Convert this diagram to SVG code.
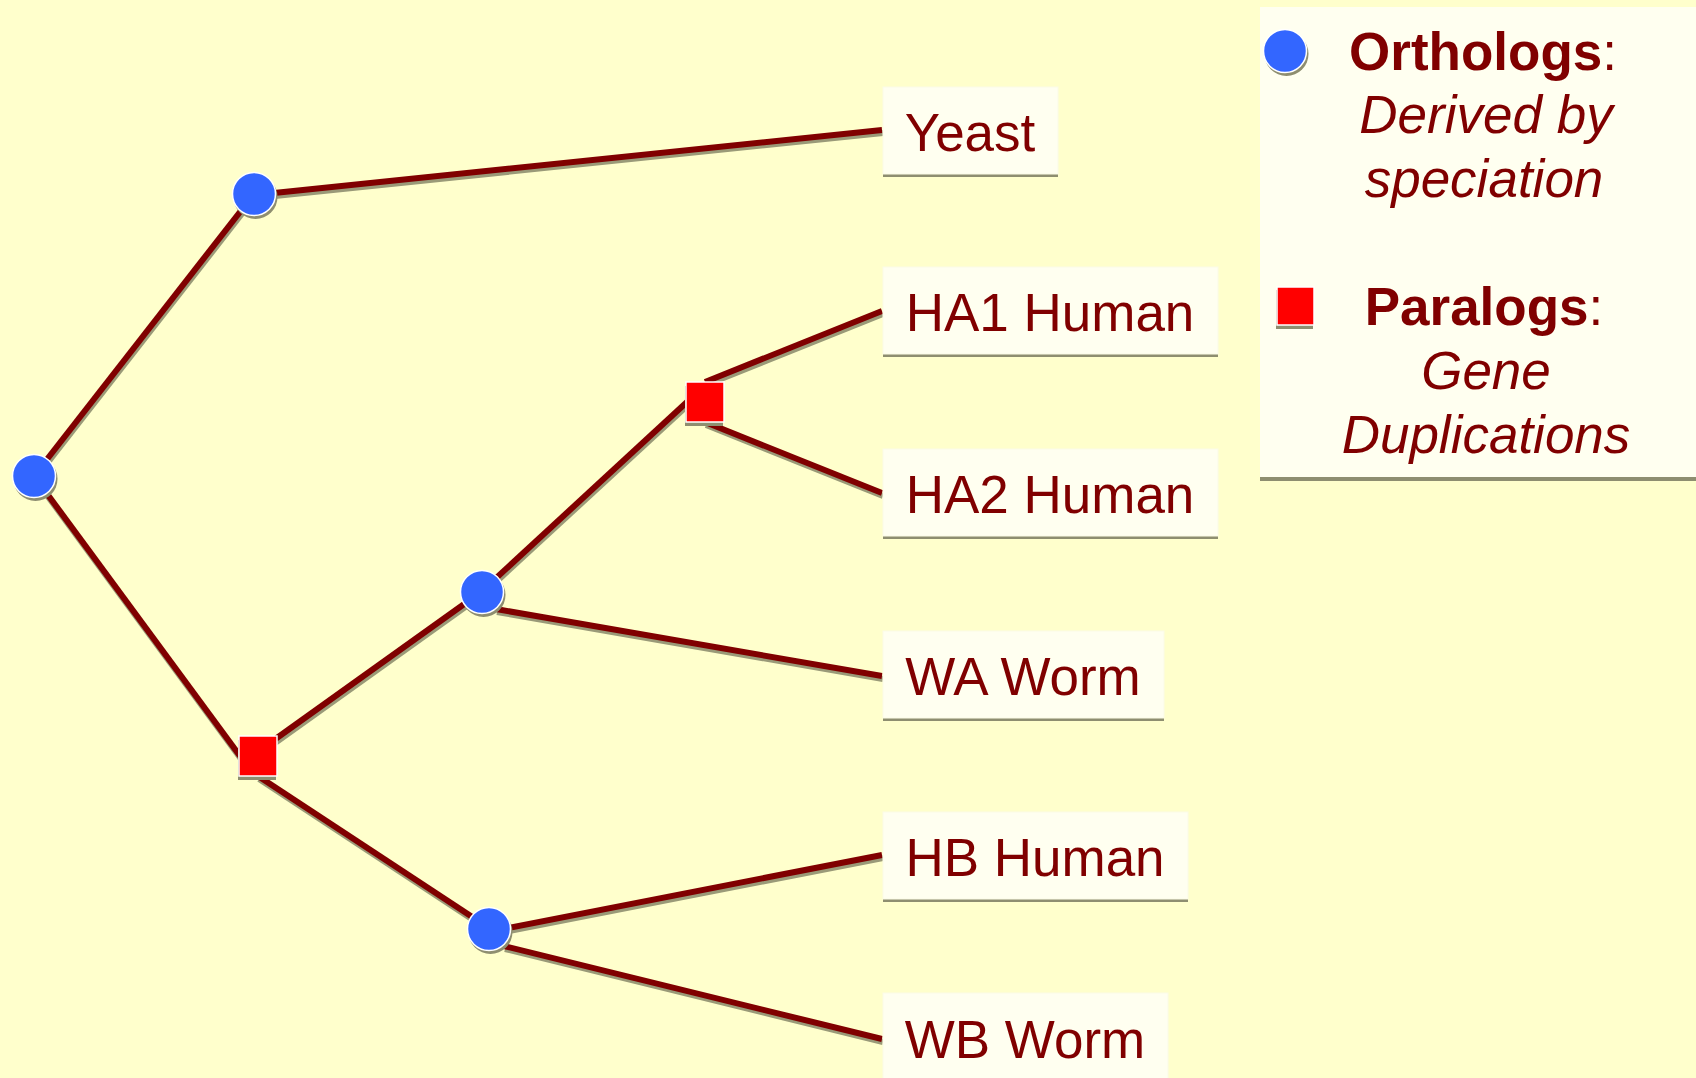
<svg xmlns="http://www.w3.org/2000/svg" width="1696" height="1078" viewBox="0 0 1696 1078">
  <style>
    .edge { stroke: #800000; stroke-width: 6; stroke-linecap: butt; fill: none; }
    .edge-shadow { stroke: #9a9a78; stroke-width: 6; fill: none; }
    .box { fill: #fffff0; stroke: #fbfbe6; stroke-width: 1; }
    .box-shadow { fill: #8e8e70; }
    .label { font-family: "Liberation Sans", Arial, sans-serif; font-size: 53px; fill: #800000; text-anchor: middle; }
    .legend-title { font-family: "Liberation Sans", Arial, sans-serif; font-size: 53px; fill: #800000; text-anchor: middle; }
    .legend-note { font-family: "Liberation Sans", Arial, sans-serif; font-size: 53px; fill: #800000; font-style: italic; text-anchor: middle; }
    .speciation { fill: #3366ff; stroke: #ffffff; stroke-width: 1.5; }
    .duplication { fill: #ff0000; stroke: #ffffff; stroke-width: 1.5; }
    .node-shadow { fill: #8e8e70; }
  </style>
  <defs>
    <g id="dot">
      <circle class="node-shadow" cx="1.5" cy="3" r="22"/>
      <circle class="speciation" cx="0" cy="0" r="21.5"/>
    </g>
    <g id="sq">
      <rect class="node-shadow" x="-20" y="-16" width="38" height="40"/>
      <rect class="duplication" x="-19" y="-20" width="38" height="40"/>
    </g>
  </defs>

  <rect x="0" y="0" width="1696" height="1078" fill="#ffffcc"/>

  <!-- legend panel -->
  <g id="legend">
    <rect class="box-shadow" x="1260" y="10" width="440" height="471"/>
    <rect x="1260" y="7" width="440" height="470" fill="#fffff0"/>
    <use href="#dot" x="1285" y="51"/>
    <g transform="translate(1295 306)">
      <rect class="node-shadow" x="-19" y="-16" width="37" height="39"/>
      <rect class="duplication" x="-18" y="-19" width="37" height="38"/>
    </g>
    <text class="legend-title" x="1483" y="70"><tspan font-weight="bold">Orthologs</tspan>:</text>
    <text class="legend-note" x="1486" y="133">Derived by</text>
    <text class="legend-note" x="1484" y="197">speciation</text>
    <text class="legend-title" x="1484" y="325"><tspan font-weight="bold">Paralogs</tspan>:</text>
    <text class="legend-note" x="1486" y="389">Gene</text>
    <text class="legend-note" x="1486" y="453">Duplications</text>
  </g>

  <!-- tree branches -->
  <g id="connectors">
    <g class="edge-shadow" transform="translate(1 3)">
      <line x1="34" y1="476" x2="254" y2="194"/>
      <line x1="274" y1="193" x2="882" y2="130"/>
      <line x1="34" y1="476" x2="240" y2="756"/>
      <line x1="274" y1="740" x2="481" y2="592"/>
      <line x1="258" y1="776" x2="489" y2="928"/>
      <line x1="481" y1="592" x2="687" y2="402"/>
      <line x1="705" y1="382" x2="882" y2="311"/>
      <line x1="705" y1="422" x2="882" y2="493"/>
      <line x1="496" y1="609" x2="882" y2="676"/>
      <line x1="508" y1="928" x2="882" y2="855"/>
      <line x1="504" y1="946" x2="882" y2="1039"/>
    </g>
    <g class="edge">
      <line x1="34" y1="476" x2="254" y2="194"/>
      <line x1="274" y1="193" x2="882" y2="130"/>
      <line x1="34" y1="476" x2="240" y2="756"/>
      <line x1="274" y1="740" x2="481" y2="592"/>
      <line x1="258" y1="776" x2="489" y2="928"/>
      <line x1="481" y1="592" x2="687" y2="402"/>
      <line x1="705" y1="382" x2="882" y2="311"/>
      <line x1="705" y1="422" x2="882" y2="493"/>
      <line x1="496" y1="609" x2="882" y2="676"/>
      <line x1="508" y1="928" x2="882" y2="855"/>
      <line x1="504" y1="946" x2="882" y2="1039"/>
    </g>
  </g>

  <!-- internal nodes -->
  <g id="root"><use href="#dot" x="34" y="476"/></g>
  <g id="spec-yeast"><use href="#dot" x="254" y="194"/></g>
  <g id="dup-a-b"><use href="#sq" x="258" y="756"/></g>
  <g id="spec-a"><use href="#dot" x="482" y="592"/></g>
  <g id="dup-ha"><use href="#sq" x="705" y="402"/></g>
  <g id="spec-b"><use href="#dot" x="489" y="929"/></g>

  <!-- leaves -->
  <g id="yeast">
    <rect class="box-shadow" x="883" y="90" width="175" height="87"/>
    <rect class="box" x="883" y="87" width="175" height="87"/>
    <text class="label" x="970" y="151">Yeast</text>
  </g>
  <g id="ha1-human">
    <rect class="box-shadow" x="883" y="270" width="335" height="87"/>
    <rect class="box" x="883" y="267" width="335" height="87"/>
    <text class="label" x="1050" y="331">HA1 Human</text>
  </g>
  <g id="ha2-human">
    <rect class="box-shadow" x="883" y="452" width="335" height="87"/>
    <rect class="box" x="883" y="449" width="335" height="87"/>
    <text class="label" x="1050" y="513">HA2 Human</text>
  </g>
  <g id="wa-worm">
    <rect class="box-shadow" x="883" y="634" width="281" height="87"/>
    <rect class="box" x="883" y="631" width="281" height="87"/>
    <text class="label" x="1023" y="695">WA Worm</text>
  </g>
  <g id="hb-human">
    <rect class="box-shadow" x="883" y="815" width="305" height="87"/>
    <rect class="box" x="883" y="812" width="305" height="87"/>
    <text class="label" x="1035" y="876">HB Human</text>
  </g>
  <g id="wb-worm">
    <rect class="box-shadow" x="883" y="996" width="285" height="90"/>
    <rect class="box" x="883" y="993" width="285" height="90"/>
    <text class="label" x="1025" y="1058">WB Worm</text>
  </g>
</svg>
